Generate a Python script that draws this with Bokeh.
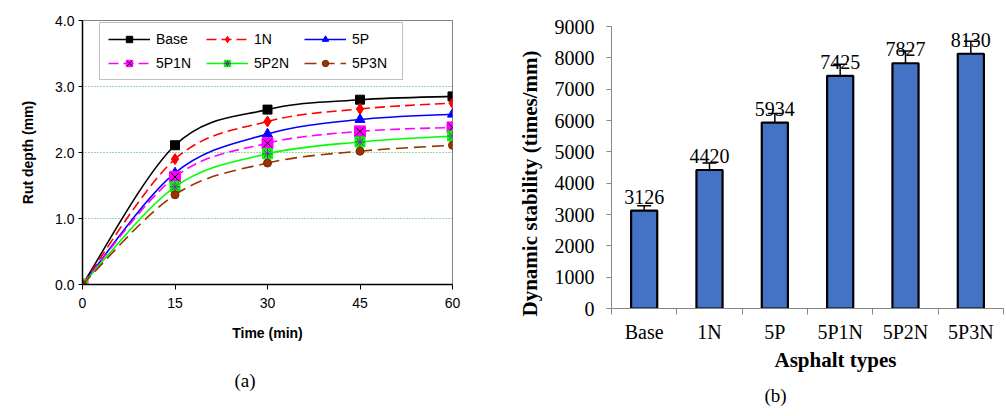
import numpy as np
from bokeh.plotting import figure
from bokeh.layouts import row
from bokeh.models import (ColumnDataSource, FixedTicker, Legend, LegendItem, Title,
                          Whisker, TeeHead, Range1d, NumeralTickFormatter)
from bokeh.core.properties import value
from bokeh.embed import file_html
from bokeh.resources import INLINE

# ---------------- data ----------------
time_min = [0, 15, 30, 45, 60]
rut_base = [0, 2.11, 2.65, 2.80, 2.85]
rut_1n = [0, 1.90, 2.47, 2.66, 2.75]
rut_5p = [0, 1.69, 2.28, 2.50, 2.58]
rut_5p1n = [0, 1.63, 2.14, 2.32, 2.38]
rut_5p2n = [0, 1.48, 1.98, 2.16, 2.25]
rut_5p3n = [0, 1.36, 1.84, 2.02, 2.11]
series_names = ["Base", "1N", "5P", "5P1N", "5P2N", "5P3N"]
y_ticks_a = [0.0, 1.0, 2.0, 3.0, 4.0]
x_ticks_a = [0, 15, 30, 45, 60]

asphalt_types = ["Base", "1N", "5P", "5P1N", "5P2N", "5P3N"]
dyn_stability = [3126, 4420, 5934, 7425, 7827, 8130]
dyn_error = [150, 220, 290, 370, 395, 400]
y_ticks_b = [0, 1000, 2000, 3000, 4000, 5000, 6000, 7000, 8000, 9000]

SANS = "Liberation Sans"
SERIF = "Liberation Serif"


def bezier_segments(x, y, t=1.0 / 6.0):
    """Smooth (Excel-like) curve through the data points as cubic bezier segments."""
    x = np.asarray(x, float)
    y = np.asarray(y, float)
    xp = np.concatenate([[x[0]], x, [x[-1]]])
    yp = np.concatenate([[y[0]], y, [y[-1]]])
    d = dict(x0=[], y0=[], x1=[], y1=[], cx0=[], cy0=[], cx1=[], cy1=[])
    for i in range(len(x) - 1):
        a, b, c, e = i, i + 1, i + 2, i + 3
        d["x0"].append(xp[b]); d["y0"].append(yp[b])
        d["x1"].append(xp[c]); d["y1"].append(yp[c])
        d["cx0"].append(xp[b] + (xp[c] - xp[a]) * t)
        d["cy0"].append(yp[b] + (yp[c] - yp[a]) * t)
        d["cx1"].append(xp[c] - (xp[e] - xp[b]) * t)
        d["cy1"].append(yp[c] - (yp[e] - yp[b]) * t)
    return d


# ---------------- chart (a) ----------------
pa = figure(width=490, height=416, output_backend="svg", toolbar_location=None,
            x_range=Range1d(0, 60), y_range=Range1d(0, 4),
            min_border_left=82, min_border_right=38, min_border_top=20, min_border_bottom=132)
pa.frame_align = False
pa.outline_line_color = "#808080"
pa.outline_line_width = 1
pa.background_fill_color = "white"
pa.border_fill_color = "white"

pa.xgrid.grid_line_color = None
pa.ygrid.ticker = FixedTicker(ticks=[1.0, 2.0, 3.0])
pa.ygrid.grid_line_color = "#3CB043"
pa.ygrid.grid_line_dash = "1 2"
pa.ygrid.grid_line_width = 1

for ax in (pa.xaxis[0], pa.yaxis[0]):
    ax.axis_line_color = "black"
    ax.axis_line_width = 1.5
    ax.major_tick_line_color = "black"
    ax.minor_tick_line_color = None
    ax.major_tick_in = 0
    ax.major_label_text_font = SANS
    ax.major_label_text_font_size = "14px"
    ax.major_label_text_color = "black"
    ax.axis_label_text_font = SANS
    ax.axis_label_text_font_size = "14px"
    ax.axis_label_text_font_style = "bold"
    ax.axis_label_text_color = "black"

pa.xaxis.ticker = FixedTicker(ticks=x_ticks_a)
pa.xaxis.major_tick_out = 5
pa.xaxis.major_label_standoff = 8
pa.xaxis.axis_label = "Time (min)"
pa.xaxis.axis_label_standoff = 14
pa.yaxis.ticker = FixedTicker(ticks=y_ticks_a)
pa.yaxis.major_tick_out = 4
pa.yaxis.major_label_standoff = 4
pa.yaxis.formatter = NumeralTickFormatter(format="0.0")
pa.yaxis.axis_label = "Rut depth (mm)"
pa.yaxis.axis_label_standoff = 16

series = [
    (rut_base, "black", "solid", [dict(marker="square", size=9, fill_color="black", line_color="black")]),
    (rut_1n, "#FF0000", "10 5", [dict(marker="diamond", size=11, fill_color="#FF0000", line_color="#FF0000")]),
    (rut_5p, "#0000FF", "solid", [dict(marker="triangle", size=10, fill_color="#0000FF", line_color="#0000FF")]),
    (rut_5p1n, "#FF00FF", "10 5", [dict(marker="square", size=11, fill_color="#FF00FF", line_color="#FF00FF"),
                                  dict(marker="x", size=11, fill_color=None, line_color="black", line_width=1)]),
    (rut_5p2n, "#00FF00", "solid", [dict(marker="square", size=10, fill_color="#00FF00", line_color="#00FF00"),
                                   dict(marker="asterisk", size=10, fill_color=None, line_color="#7030A0", line_width=1)]),
    (rut_5p3n, "#993300", "12 6", [dict(marker="circle", size=8, fill_color="#993300", line_color="#7A2800")]),
]

items = []
for (vals, color, dash, marks), name in zip(series, series_names):
    seg = bezier_segments(time_min, vals)
    curve = pa.bezier(x0="x0", y0="y0", x1="x1", y1="y1", cx0="cx0", cy0="cy0", cx1="cx1", cy1="cy1",
                      source=ColumnDataSource(seg), line_color=color, line_width=1.6, line_dash=dash)
    rends = [curve]
    src = ColumnDataSource(dict(x=time_min, y=vals))
    for m in marks:
        rends.append(pa.scatter(x="x", y="y", source=src, **m))
    items.append(LegendItem(label=name, renderers=rends))

# legend lays out column by column: reorder so rows read Base,1N,5P / 5P1N,5P2N,5P3N
legend_order = [0, 3, 1, 4, 2, 5]
legend = Legend(items=[items[i] for i in legend_order], ncols=3, location=(17, 204),
                label_text_font=SANS, label_text_font_size="14px", label_text_color="black",
                glyph_width=42, glyph_height=16, label_height=16, label_width=42,
                label_standoff=6, spacing=8, padding=8,
                border_line_color="#808080", border_line_width=1,
                background_fill_color="white", background_fill_alpha=1)
pa.add_layout(legend, "center")

pa.add_layout(Title(text="(a)", align="left", offset=152, standoff=48, vertical_align="bottom",
                    text_font=SERIF, text_font_size="19px", text_font_style="normal",
                    text_color="black"), "below")

# ---------------- chart (b) ----------------
n = len(asphalt_types)
centers = [i + 0.5 for i in range(n)]
pb = figure(width=516, height=416, output_backend="svg", toolbar_location=None,
            x_range=Range1d(0, n), y_range=Range1d(0, 9000),
            min_border_left=121, min_border_right=3, min_border_top=26, min_border_bottom=108)
pb.frame_align = False
pb.outline_line_color = None
pb.xgrid.grid_line_color = None
pb.ygrid.grid_line_color = None

bsrc = ColumnDataSource(dict(
    x=centers, top=dyn_stability,
    upper=[v + e for v, e in zip(dyn_stability, dyn_error)],
    lower=[v - e for v, e in zip(dyn_stability, dyn_error)],
    lab=[str(v) for v in dyn_stability],
))
pb.vbar(x="x", top="top", width=0.4, source=bsrc, fill_color="#4472C4",
        line_color="black", line_width=2.2)
pb.add_layout(Whisker(base="x", upper="upper", lower="lower", source=bsrc,
                      line_color="black", line_width=1.5,
                      upper_head=TeeHead(size=14, line_color="black", line_width=1.5),
                      lower_head=TeeHead(size=14, line_color="black", line_width=1.5)))
pb.text(x="x", y="top", text="lab", source=bsrc, y_offset=-14,
        text_font=value(SERIF), text_font_size="20px", text_align="center",
        text_baseline="alphabetic", text_color="black")

xa = pb.xaxis[0]
xa.ticker = FixedTicker(ticks=centers, minor_ticks=list(range(n + 1)))
xa.major_label_overrides = {c: t for c, t in zip(centers, asphalt_types)}
xa.major_tick_line_color = None
xa.major_tick_out = 6
xa.minor_tick_line_color = "#868686"
xa.minor_tick_out = 6
xa.minor_tick_in = 0
xa.axis_line_color = "#868686"
xa.major_label_standoff = 6
xa.major_label_text_font = SERIF
xa.major_label_text_font_size = "20px"
xa.major_label_text_color = "black"

ya = pb.yaxis[0]
ya.ticker = FixedTicker(ticks=y_ticks_b)
ya.axis_line_color = "#868686"
ya.major_tick_line_color = "#868686"
ya.major_tick_out = 5
ya.major_tick_in = 0
ya.minor_tick_line_color = None
ya.major_label_standoff = 12
ya.major_label_text_font = SERIF
ya.major_label_text_font_size = "20px"
ya.major_label_text_color = "black"

pb.add_layout(Title(text="Dynamic stability (times/mm)", align="left", offset=-8, standoff=20,
                    text_font=SERIF, text_font_size="21px", text_font_style="bold",
                    text_color="black"), "left")
pb.add_layout(Title(text="Asphalt types", align="left", offset=163, standoff=0,
                    text_font=SERIF, text_font_size="21px", text_font_style="bold",
                    text_color="black"), "below")
pb.add_layout(Title(text="(b)", align="left", offset=153, standoff=22, vertical_align="bottom",
                    text_font=SERIF, text_font_size="19px", text_font_style="normal",
                    text_color="black"), "below")

layout = row(pa, pb)
open("out.html", "w").write(file_html(layout, INLINE))
